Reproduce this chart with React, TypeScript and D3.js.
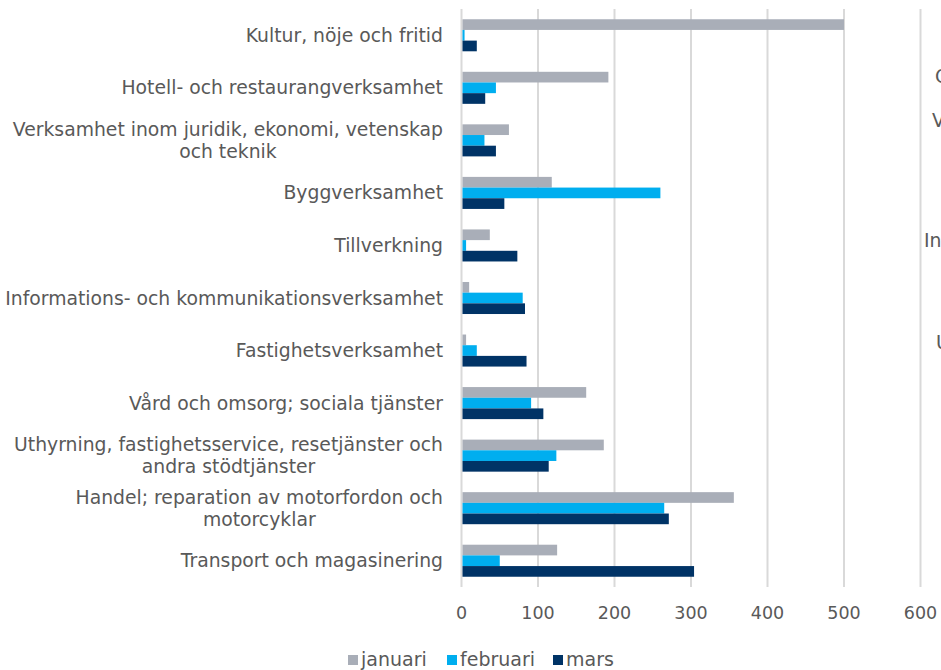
import * as d3 from "d3";

const categories = [
  "Kultur, nöje och fritid",
  "Hotell- och restaurangverksamhet",
  "Verksamhet inom juridik, ekonomi, vetenskap\noch teknik",
  "Byggverksamhet",
  "Tillverkning",
  "Informations- och kommunikationsverksamhet",
  "Fastighetsverksamhet",
  "Vård och omsorg; sociala tjänster",
  "Uthyrning, fastighetsservice, resetjänster och\nandra stödtjänster",
  "Handel; reparation av motorfordon och\nmotorcyklar",
  "Transport och magasinering",
];

const seriesNames = ["januari", "februari", "mars"];
const januari = [500, 192, 62, 118, 37, 10, 6, 163, 186, 356, 125];
const februari = [4, 45, 30, 260, 6, 80, 20, 91, 124, 265, 50];
const mars = [20, 31, 45, 56, 73, 83, 85, 107, 114, 271, 304];
const xTicks = [0, 100, 200, 300, 400, 500, 600];

// fragments of a neighbouring chart, cut off at the right edge
const cutLabels = ["O", "V", "In", "U"];

const colors = ["#A9AEB8", "#00AEEF", "#003366"];
const font = "'DejaVu Sans', Verdana, sans-serif";
const textColor = "#595959";
const labelSize = 18.8;

let ctx: CanvasRenderingContext2D | null = null;
function textWidth(s: string, size: number) {
  if (!ctx) ctx = document.createElement("canvas").getContext("2d");
  if (!ctx) return s.length * size * 0.58;
  ctx.font = `${size}px 'DejaVu Sans'`;
  return ctx.measureText(s).width;
}

export default function App() {
  const width = 941;
  const height = 670;
  const margin = { top: 9, left: 461.5, bottom: 83 };
  const labelRight = 443;

  const values = [januari, februari, mars];

  const x = d3.scaleLinear().domain([0, 600]).range([margin.left, 920.5]);
  const y = d3
    .scaleBand()
    .domain(categories)
    .range([margin.top, height - margin.bottom]);
  const inner = d3
    .scaleBand()
    .domain(seriesNames)
    .range([0, y.bandwidth()])
    .paddingOuter(0.96);

  const cutPos = [
    { x: 935, y: 83 },
    { x: 932, y: 127 },
    { x: 924, y: 247 },
    { x: 936, y: 349 },
  ];

  const legendX = [348, 447, 553];

  return (
    <div style={{ position: "absolute", left: 0, top: 0 }}>
      <svg width={width} height={height} style={{ display: "block", background: "#fff" }}>
        {xTicks.map((t) => (
          <line
            key={"g" + t}
            x1={x(t)}
            x2={x(t)}
            y1={margin.top}
            y2={height - margin.bottom}
            stroke="#D9D9D9"
            strokeWidth={2}
          />
        ))}
        {categories.map((c, i) => {
          const lines = c.split("\n");
          const w = Math.max(...lines.map((l) => textWidth(l, labelSize)));
          const cx = labelRight - w / 2;
          const cy = (y(c) as number) + y.bandwidth() / 2;
          return (
            <g key={c}>
              {seriesNames.map((s, k) => (
                <rect
                  key={s}
                  x={x(0) + 1}
                  y={(y(c) as number) + (inner(s) as number)}
                  width={Math.max(0, x(values[k][i]) - x(0) - 1)}
                  height={inner.bandwidth()}
                  fill={colors[k]}
                />
              ))}
              {lines.map((line, li) => (
                <text
                  key={li}
                  x={lines.length > 1 ? cx : labelRight}
                  y={cy + 6.5 + (li - (lines.length - 1) / 2) * 22}
                  textAnchor={lines.length > 1 ? "middle" : "end"}
                  fontFamily={font}
                  fontSize={labelSize}
                  fill={textColor}
                >
                  {line}
                </text>
              ))}
            </g>
          );
        })}
        {xTicks.map((t) => (
          <text
            key={"t" + t}
            x={x(t)}
            y={619}
            textAnchor="middle"
            fontFamily={font}
            fontSize={17.5}
            fill={textColor}
          >
            {t}
          </text>
        ))}
        {seriesNames.map((s, k) => (
          <g key={"l" + s}>
            <rect x={legendX[k]} y={655} width={10} height={10} fill={colors[k]} />
            <text x={legendX[k] + 13} y={666} fontFamily={font} fontSize={19} fill={textColor}>
              {s}
            </text>
          </g>
        ))}
        {cutLabels.map((t, i) => (
          <text key={"c" + i} x={cutPos[i].x} y={cutPos[i].y} fontFamily={font} fontSize={labelSize} fill={textColor}>
            {t}
          </text>
        ))}
      </svg>
    </div>
  );
}
